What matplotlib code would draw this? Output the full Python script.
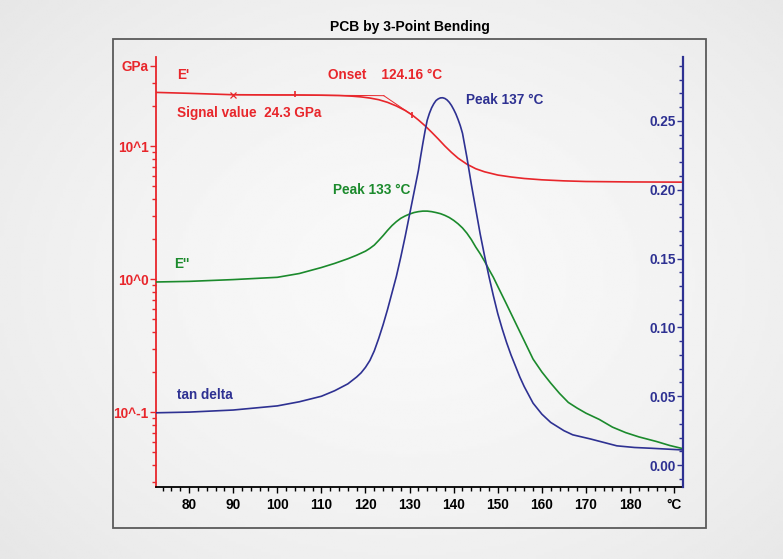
import matplotlib
matplotlib.use("Agg")
import matplotlib.pyplot as plt
import numpy as np
from matplotlib.patches import Rectangle
from matplotlib.ticker import FixedLocator, NullFormatter

plt.rcParams['font.family'] = ['Liberation Sans', 'DejaVu Sans']
plt.rcParams['font.weight'] = 'bold'

RED = '#e8262b'
NAVY = '#2e3192'
GREEN = '#1b8a2c'

# storage modulus E' (GPa)
t_e1 = [72.5, 80, 90, 100, 104, 110, 114, 117, 119, 121, 123, 125, 127, 129, 130.6, 132, 133.5,
        135, 136.5, 138, 139.5, 141, 143, 145, 147, 150, 153, 156, 160, 165, 170, 180, 192]
e1 = [25.3, 24.9, 24.3, 24.2, 24.2, 24.1, 23.95, 23.7, 23.4, 22.95, 22.3, 21.3, 20.0, 18.5, 17.1, 15.7,
      14.2, 12.7, 11.3, 10.0, 8.95, 8.1, 7.3, 6.75, 6.4, 6.05, 5.85, 5.7, 5.57, 5.47, 5.41, 5.37, 5.35]

# loss modulus E'' (GPa)
t_e2 = [72.5, 80, 90, 100, 105, 110, 113, 116, 118, 120, 121, 122, 123, 124, 125, 126, 127, 128,
        129, 130, 131, 132, 133, 134, 135, 136, 137, 138, 139, 140, 141, 142, 143, 144, 145, 146,
        147, 148, 149, 150, 152, 154, 156, 158, 160, 162, 164, 166, 168, 170, 173, 176, 179, 182,
        186, 189, 192]
e2 = [0.95, 0.96, 0.99, 1.03, 1.10, 1.22, 1.31, 1.42, 1.51, 1.62, 1.70, 1.80, 1.95, 2.12, 2.32, 2.52,
      2.70, 2.86, 2.98, 3.08, 3.16, 3.21, 3.24, 3.24, 3.21, 3.16, 3.10, 3.01, 2.90, 2.76, 2.60, 2.42,
      2.21, 1.98, 1.74, 1.55, 1.36, 1.18, 1.03, 0.88, 0.645, 0.47, 0.343, 0.25, 0.20, 0.165, 0.138,
      0.118, 0.107, 0.098, 0.088, 0.077, 0.070, 0.065, 0.060, 0.056, 0.053]

# tan delta
t_tan = [72.5, 80, 90, 100, 105, 110, 113, 116, 118, 119, 120, 121, 122, 123, 124, 125, 126, 127,
         128, 129, 130, 131, 132, 132.5, 133, 133.5, 134, 134.5, 135, 135.5, 136, 136.5, 137, 137.5,
         138, 138.5, 139, 139.5, 140, 140.5, 141, 141.5, 142, 143, 144, 145, 146, 147, 148, 149,
         150, 151, 152, 153, 154, 155, 156, 157, 158, 159, 160, 161, 162, 163.5, 165, 167, 169,
         171, 174, 177, 181, 185, 192]
tan_d = [0.038, 0.0385, 0.040, 0.043, 0.046, 0.050, 0.054, 0.059, 0.064, 0.067, 0.071, 0.076, 0.083,
         0.092, 0.102, 0.113, 0.125, 0.137, 0.151, 0.166, 0.182, 0.198, 0.214, 0.224, 0.2335, 0.2425,
         0.2505, 0.2555, 0.2595, 0.2625, 0.2648, 0.266, 0.2667, 0.2668, 0.2663, 0.2652, 0.2635, 0.2612,
         0.2583, 0.255, 0.251, 0.2465, 0.241, 0.2235, 0.204, 0.186, 0.168, 0.152, 0.137, 0.123, 0.110,
         0.099, 0.089, 0.080, 0.072, 0.064, 0.057, 0.051, 0.045, 0.041, 0.037, 0.034, 0.031, 0.028,
         0.025, 0.022, 0.0205, 0.019, 0.0165, 0.014, 0.0128, 0.0122, 0.011]

# onset evaluation on E'
signal_t, signal_val = 90, 24.3
onset_t, onset_val = 124.16, 23.9
base_t = [signal_t, 104, onset_t]
base_v = [signal_val, 24.2, onset_val]
infl_t, infl_val = 130.6, 17.1

x_major = [80, 90, 100, 110, 120, 130, 140, 150, 160, 170, 180, 190]
x_labels = ['80', '90', '100', '110', '120', '130', '140', '150', '160', '170', '180', '°C']
y2_major = [0.0, 0.05, 0.10, 0.15, 0.20, 0.25]

W, H = 783, 559
fig = plt.figure(figsize=(W / 100, H / 100), dpi=100)

# soft grey background, lighter in the middle
bg = fig.add_axes([0, 0, 1, 1], zorder=-10)
yy, xx = np.mgrid[0:1:200j, 0:1:280j]
r = np.sqrt(((xx - 0.52) / 0.75) ** 2 + ((yy - 0.5) / 0.8) ** 2)
shade = 0.975 - 0.08 * np.clip(r, 0, 1) ** 1.6
bg.imshow(shade, cmap='gray', vmin=0, vmax=1, aspect='auto', extent=[0, 1, 0, 1])
bg.axis('off')

# outer frame
fig.patches.append(Rectangle((113 / W, 1 - 528 / H), (706 - 113) / W, (528 - 39) / H,
                             transform=fig.transFigure, fill=False, ec='#5a5a5a', lw=1.3))

ax = fig.add_axes([156 / W, 1 - 487 / H, (683 - 156) / W, (487 - 57) / H])
ax.set_facecolor('none')
ax2 = ax.twinx()

ax.plot(t_e1, e1, color=RED, lw=1.2, zorder=3)
ax.plot(t_e2, e2, color=GREEN, lw=1.2, zorder=3)
ax2.plot(t_tan, tan_d, color=NAVY, lw=1.2, zorder=3)

# onset construction lines and markers
ax.plot(base_t, base_v, color=RED, lw=0.7)
ax.plot([onset_t, infl_t], [onset_val, infl_val], color=RED, lw=0.7)
ax.plot([signal_t], [signal_val], marker='x', ms=4, mew=0.9, color=RED)
ax.plot([104], [24.6], marker='|', ms=5, mew=1.2, color=RED)
ax.plot([infl_t], [infl_val], marker='|', ms=5, mew=1.2, color=RED)

ax.set_xlim(72.5, 192)
ax.set_yscale('log')
ax.set_ylim(0.0273, 46.7)
ax2.set_ylim(-0.0159, 0.2964)

fs = 9.8
# x axis
ax.set_xticks(x_major)
ax.set_xticklabels(x_labels, fontsize=fs, fontweight='bold')
ax.xaxis.set_minor_locator(FixedLocator(np.arange(74, 192, 2)))
ax.tick_params(axis='x', which='major', length=4.5, width=1, pad=3.5, color='black')
ax.tick_params(axis='x', which='minor', length=3, width=1, color='black')

# left log axis
ax.yaxis.set_major_locator(FixedLocator([0.1, 1, 10, 40]))
ax.set_yticklabels(['10^-1', '10^0', '10^1', 'GPa'], fontsize=fs, fontweight='bold', color=RED)
minors = [m * d for d in (0.01, 0.1, 1, 10) for m in range(2, 10)]
minors = [v for v in minors if 0.0273 < v < 46.7 and v != 40]
ax.yaxis.set_minor_locator(FixedLocator(minors))
ax.yaxis.set_minor_formatter(NullFormatter())
ax.tick_params(axis='y', which='major', length=4, width=1, pad=1.2, color=RED)
ax.tick_params(axis='y', which='minor', length=3, width=1, color=RED)

# right linear axis, labels inside
ax2.set_yticks(y2_major)
ax2.set_yticklabels(['0.00', '0.05', '0.10', '0.15', '0.20', '0.25'], fontsize=fs,
                    fontweight='bold', color=NAVY)
ax2.yaxis.set_minor_locator(FixedLocator(np.arange(-0.01, 0.295, 0.01)))
ax2.tick_params(axis='y', which='major', direction='in', length=4, width=1, pad=-5, color=NAVY)
ax2.tick_params(axis='y', which='minor', direction='in', length=2.8, width=1, color=NAVY)
for lbl in ax2.get_yticklabels():
    lbl.set_horizontalalignment('right')

for a in (ax, ax2):
    a.spines['top'].set_visible(False)
ax.spines['right'].set_visible(False)
ax2.spines['left'].set_visible(False)
ax2.spines['bottom'].set_visible(False)
ax.spines['left'].set_color(RED)
ax.spines['left'].set_linewidth(1.3)
ax.spines['bottom'].set_color('black')
ax.spines['bottom'].set_linewidth(1.3)
ax2.spines['right'].set_color(NAVY)
ax2.spines['right'].set_linewidth(1.6)

# curve labels
ax.text(77.3, 34.2, "E'", color=RED, fontsize=fs, fontweight='bold', va='center')
ax.text(111.5, 34.2, "Onset    124.16 °C", color=RED, fontsize=fs, fontweight='bold', va='center')
ax.text(77.3, 17.7, "Signal value  24.3 GPa", color=RED, fontsize=fs, fontweight='bold', va='center')
ax.text(112.7, 4.67, "Peak 133 °C", color=GREEN, fontsize=fs, fontweight='bold', va='center')
ax.text(76.6, 1.30, "E''", color=GREEN, fontsize=fs, fontweight='bold', va='center')
ax2.text(142.8, 0.265, "Peak 137 °C", color=NAVY, fontsize=fs, fontweight='bold', va='center')
ax2.text(77.3, 0.0507, "tan delta", color=NAVY, fontsize=fs, fontweight='bold', va='center')

fig.text(410 / W, 1 - 27 / H, "PCB by 3-Point Bending", ha='center', va='center',
         fontsize=10, fontweight='bold', color='black')

fig.savefig('out.png', dpi=100)
